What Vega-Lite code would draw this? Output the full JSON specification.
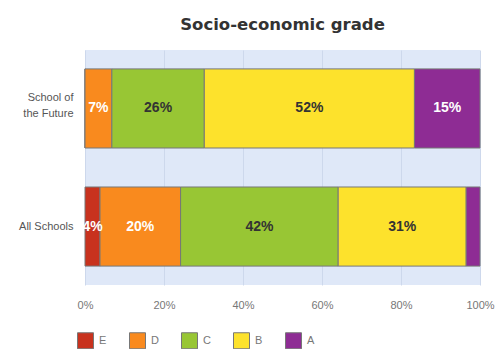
{
  "$schema": "https://vega.github.io/schema/vega-lite/v6.json",
  "autosize": "none",
  "width": 395,
  "height": 235,
  "padding": {"left": 85, "top": 50, "right": 15, "bottom": 64},
  "background": "white",
  "view": {"fill": "#dfe8f8", "stroke": null},
  "title": {"text": "Socio-economic grade", "fontSize": 16.5, "font": "DejaVu Sans", "fontWeight": "bold", "color": "#333", "offset": 17, "anchor": "middle"},
  "data": {"values": [
    {"school": "School of the Future", "grade": "E", "rank": 1, "share": 0, "label": ""},
    {"school": "School of the Future", "grade": "D", "rank": 2, "share": 6.8, "label": "7%"},
    {"school": "School of the Future", "grade": "C", "rank": 3, "share": 23.4, "label": "26%"},
    {"school": "School of the Future", "grade": "B", "rank": 4, "share": 53.2, "label": "52%"},
    {"school": "School of the Future", "grade": "A", "rank": 5, "share": 16.6, "label": "15%"},
    {"school": "All Schools", "grade": "E", "rank": 1, "share": 3.8, "label": "4%"},
    {"school": "All Schools", "grade": "D", "rank": 2, "share": 20.4, "label": "20%"},
    {"school": "All Schools", "grade": "C", "rank": 3, "share": 39.9, "label": "42%"},
    {"school": "All Schools", "grade": "B", "rank": 4, "share": 32.4, "label": "31%"},
    {"school": "All Schools", "grade": "A", "rank": 5, "share": 3.5, "label": ""}
  ]},
  "transform": [
    {"stack": "share", "groupby": ["school"], "sort": [{"field": "rank", "order": "ascending"}], "as": ["s0", "s1"]},
    {"calculate": "(datum.s0 + datum.s1) / 2", "as": "mid"}
  ],
  "encoding": {
    "y": {"field": "school", "type": "nominal", "sort": ["School of the Future", "All Schools"],
      "scale": {"paddingInner": 0.33, "paddingOuter": 0.16},
      "axis": {"title": null, "domain": false, "ticks": false, "labelPadding": 12, "labelFontSize": 11, "labelColor": "#555", "labelFont": "Liberation Sans",
        "labelExpr": "datum.label == 'School of the Future' ? ['School of', 'the Future'] : datum.label", "labelLineHeight": 16,
        "labelOffset": {"condition": {"test": "datum.value == 'School of the Future'", "value": -10}, "value": 0}}}
  },
  "layer": [
    {
      "mark": {"type": "bar", "stroke": "#777", "strokeWidth": 1},
      "encoding": {
        "x": {"field": "s0", "type": "quantitative", "scale": {"domain": [0, 100], "nice": false},
          "axis": {"title": null, "values": [0, 20, 40, 60, 80, 100], "labelExpr": "datum.value + '%'", "labelFlush": false, "domain": false, "ticks": false, "grid": true, "gridColor": "#cdd8ec", "labelPadding": 14, "labelFontSize": 11, "labelColor": "#777", "labelFont": "Liberation Sans"}},
        "x2": {"field": "s1"},
        "color": {"field": "grade", "type": "nominal",
          "scale": {"domain": ["E", "D", "C", "B", "A"], "range": ["#c8321e", "#f98a1e", "#98c634", "#fde22c", "#8e2c94"]},
          "legend": {"orient": "none", "legendX": -8, "legendY": 282, "direction": "horizontal", "title": null, "symbolType": "square", "symbolSize": 256, "symbolStrokeColor": "#777", "symbolStrokeWidth": 1, "labelFontSize": 11, "labelColor": "#777", "labelFont": "Liberation Sans", "columnPadding": 20, "labelOffset": 5}}
      }
    },
    {
      "mark": {"type": "text", "fontSize": 14, "fontWeight": "bold", "font": "Liberation Sans"},
      "encoding": {
        "x": {"field": "mid", "type": "quantitative"},
        "text": {"field": "label"},
        "color": {"condition": {"test": "datum.grade == 'C' || datum.grade == 'B'", "value": "#333"}, "value": "#ffffff"}
      }
    }
  ]
}
